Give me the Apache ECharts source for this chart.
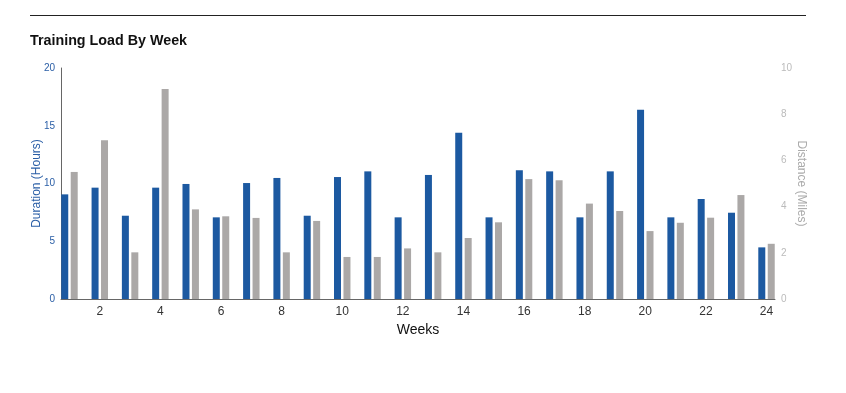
<!DOCTYPE html>
<html>
<head>
<meta charset="utf-8">
<script src="https://cdn.jsdelivr.net/npm/echarts@6/dist/echarts.min.js"></script>
<style>html,body{margin:0;padding:0;background:#fff}#c{width:846px;height:393px}</style>
</head>
<body>
<div id="c"></div>
<script>
const weeks = [1,2,3,4,5,6,7,8,9,10,11,12,13,14,15,16,17,18,19,20,21,22,23,24];
const durationHours = [9.06,9.64,7.21,9.64,9.96,7.07,10.04,10.48,7.21,10.56,11.05,7.07,10.74,14.4,7.07,11.14,11.05,7.07,11.05,16.39,7.07,8.66,7.47,4.47];
const distanceMiles = [5.50,6.87,2.02,9.09,3.88,3.58,3.51,2.02,3.38,1.82,1.82,2.19,2.02,2.64,3.32,5.19,5.14,4.13,3.81,2.94,3.30,3.52,4.50,2.39];
const xTicks = [2,4,6,8,10,12,14,16,18,20,22,24];
const leftTicks = [0,5,10,15,20];
const rightTicks = [0,2,4,6,8,10];

const font = 'Liberation Sans, Arial, sans-serif';
const chart = echarts.init(document.getElementById('c'));
chart.setOption({
  animation: false,
  textStyle: {fontFamily: font},
  title: {
    text: 'Training Load By Week', left: 30, top: 34, padding: 0,
    textStyle: {fontSize: 14.3, fontWeight: 'bold', color: '#111', fontFamily: font}
  },
  graphic: [{type: 'line', shape: {x1: 30, y1: 15.5, x2: 806, y2: 15.5}, style: {stroke: '#222', lineWidth: 1}}],
  grid: {left: 61, right: 71, top: 68, bottom: 94},
  xAxis: {
    type: 'value', min: 0.72, max: 24.28,
    name: 'Weeks', nameLocation: 'middle', nameGap: 24, nameMoveOverlap: false,
    nameTextStyle: {fontSize: 14, color: '#111'},
    axisLine: {show: true, onZero: false, lineStyle: {color: '#666'}},
    axisTick: {show: false},
    splitLine: {show: false},
    axisLabel: {customValues: xTicks, fontSize: 12, color: '#333', margin: 7}
  },
  yAxis: [{
    type: 'value', min: 0, max: 20,
    name: 'Duration (Hours)', nameLocation: 'middle', nameGap: 18, nameMoveOverlap: false,
    nameTextStyle: {fontSize: 12, color: '#2a5ea6'},
    axisLine: {show: true, lineStyle: {color: '#666'}},
    axisTick: {show: false},
    splitLine: {show: false},
    axisLabel: {customValues: leftTicks, fontSize: 10, color: '#2a5ea6', margin: 6}
  }, {
    type: 'value', min: 0, max: 10,
    name: 'Distance (Miles)', nameLocation: 'middle', nameGap: 20, nameMoveOverlap: false,
    nameRotate: -90,
    nameTextStyle: {fontSize: 12, color: '#aaa'},
    axisLine: {show: false},
    axisTick: {show: false},
    splitLine: {show: false},
    axisLabel: {customValues: rightTicks, fontSize: 10, color: '#bbb', margin: 6}
  }],
  series: [{
    type: 'bar', yAxisIndex: 0, barWidth: 7, barGap: '35%',
    itemStyle: {color: '#1c59a1'},
    data: weeks.map((w, i) => [w, durationHours[i]])
  }, {
    type: 'bar', yAxisIndex: 1, barWidth: 7, barGap: '35%',
    itemStyle: {color: '#aba8a7'},
    data: weeks.map((w, i) => [w, distanceMiles[i]])
  }]
});
</script>
</body>
</html>
